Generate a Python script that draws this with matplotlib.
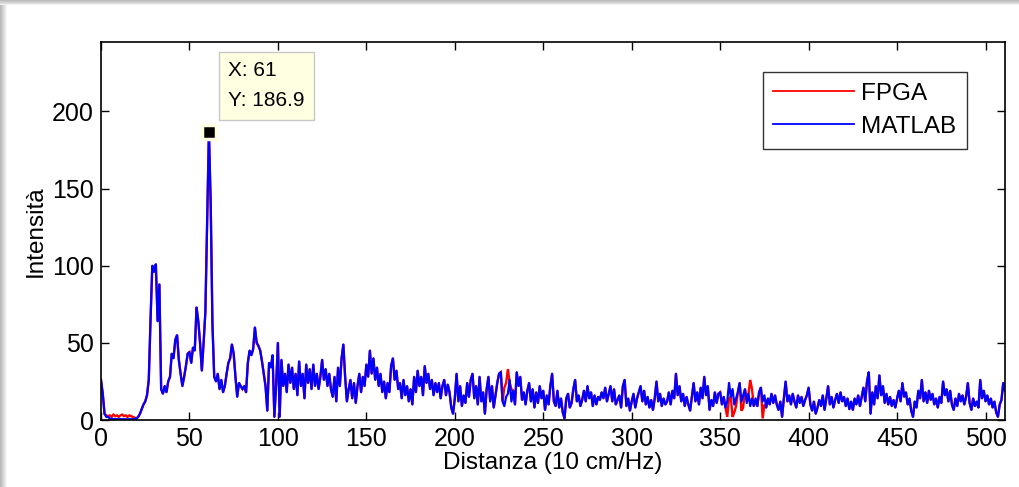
import numpy as np
import matplotlib
matplotlib.use("Agg")
import matplotlib.pyplot as plt
from matplotlib.patches import Rectangle

# MATLAB spectrum, bins 0..511
matlab = [
    26, 17, 4, 2, 2, 0.8, 0.8, 0.6, 0.6, 0.5,
    0.5, 0.5, 0.5, 0.5, 0.5, 0.5, 0.5, 0.5, 0.5, 0.8,
    1, 2, 4, 7, 10, 12, 16, 26, 65, 100,
    96, 101, 64, 88, 20, 17, 22, 18, 25, 28,
    43, 40, 52, 55, 39, 30, 22, 28, 35, 43,
    44, 37, 47, 45, 73, 64, 50, 32, 50, 70,
    128, 186.9, 141, 62, 28, 25, 30, 20, 26, 18,
    22, 30, 37, 40, 49, 43, 28, 15, 24, 22,
    20, 22, 18, 37, 45, 42, 46, 60, 50, 48,
    45, 38, 30, 22, 6, 37, 34, 42, 2, 23,
    50, 2, 39, 22, 30, 18, 36, 24, 34, 20,
    30, 16, 38, 22, 30, 14, 36, 24, 33, 20,
    36, 22, 30, 20, 28, 39, 26, 33, 22, 30,
    20, 15, 28, 12, 34, 22, 40, 49, 28, 12,
    20, 26, 14, 24, 11, 22, 30, 18, 28, 22,
    36, 28, 45, 30, 40, 26, 34, 22, 30, 18,
    25, 14, 24, 18, 35, 40, 26, 32, 20, 24,
    14, 26, 16, 22, 12, 20, 10, 28, 18, 32,
    22, 28, 16, 35, 24, 30, 20, 26, 16, 24,
    18, 24, 14, 22, 26, 16, 23, 18, 8, 4,
    14, 30, 12, 22, 9, 16, 11, 24, 15, 26,
    30, 14, 22, 10, 28, 12, 18, 4, 20, 28,
    12, 22, 8, 16, 24, 30, 31, 12, 9, 15,
    17, 26, 12, 19, 10, 31, 22, 28, 13, 18,
    10, 19, 24, 12, 20, 8, 18, 11, 22, 14,
    19, 6.5, 16, 10, 22, 30, 12, 9, 19, 8,
    14, 5, 1, 14, 17, 8, 11, 20, 26, 12,
    16, 9, 13, 19, 12, 22, 14, 18, 9, 16,
    10, 15, 13, 18, 14, 21, 12, 17, 22, 12,
    20, 10, 13, 16, 8, 22, 26, 9, 14, 6,
    12, 17, 8, 14, 18, 22, 12, 19, 10, 15,
    8, 13, 6.5, 14, 25, 12, 17, 9, 14, 10,
    12, 18, 10, 19, 14, 30, 16, 22, 12, 17,
    9, 15, 10, 6, 15, 24, 12, 18, 10, 21,
    14, 28, 16, 22, 6.5, 13, 9, 18, 11, 17,
    18, 10, 15, 8, 12, 24, 15, 20, 10, 14,
    18, 24, 12, 16, 20, 11, 17, 9, 14, 9,
    14, 9, 18, 21, 12, 16, 8, 14, 10, 17,
    11, 16, 10, 6.5, 12, 2, 14, 25, 12, 16,
    10, 17, 12, 8, 16, 11, 15, 9, 13, 16,
    21, 10, 6, 12, 4, 8, 13, 9, 16, 6.5,
    14, 22, 10, 15, 8, 13, 17, 11, 18, 12,
    15, 9, 14, 7, 12, 6.5, 14, 10, 16, 9,
    15, 21, 12, 25, 31, 4, 18, 10, 22, 14,
    29, 16, 22, 11, 17, 10, 15, 9, 13, 8,
    14, 19, 12, 24, 15, 18, 10, 14, 6, 2,
    12, 8, 19, 14, 26, 12, 18, 11, 19, 13,
    17, 10, 14, 8, 15, 11, 25, 16, 20, 12,
    19, 10, 6.5, 14, 9, 17, 12, 16, 10, 15,
    24, 11, 6.5, 14, 9, 12, 8, 26, 14, 19,
    12, 16, 10, 14, 8, 12, 5, 2, 10, 13,
    24, 19,
]

# FPGA output: same as MATLAB except in the bins where the red trace shows
fpga_diff = {
    3: 3, 4: 2.5, 5: 3, 6: 2, 7: 3.5, 8: 2.5, 9: 3, 10: 2, 11: 3,
    12: 3.5, 13: 2.5, 14: 3, 15: 2, 16: 3, 17: 2.5, 18: 2, 19: 1.5,
    228: 21, 229: 24, 230: 33, 231: 24, 232: 20,
    354: 2, 355: 14, 357: 2, 358: 5, 359: 9, 362: 6, 363: 8, 365: 14,
    367: 26, 368: 20, 370: 12, 372: 18, 374: 1, 375: 10,
}

peak_x, peak_y = 61, 186.9

x = np.arange(len(matlab))
fpga = list(matlab)
for k, v in fpga_diff.items():
    fpga[k] = v

plt.rcParams["font.family"] = ["Liberation Sans", "DejaVu Sans"]

W, H = 1019, 487
fig = plt.figure(figsize=(W / 100, H / 100), dpi=100)

# window shadow of the screenshot (left and top edges)
for i, g in enumerate([0.72, 0.76, 0.80, 0.84, 0.88, 0.92, 0.96]):
    fig.patches.append(Rectangle((i / W, 0), 1 / W, 1, transform=fig.transFigure,
                                 fc=str(g), ec="none"))
for i, g in enumerate([0.74, 0.78, 0.83, 0.88, 0.94]):
    fig.patches.append(Rectangle((0, 1 - (i + 1) / H), 1, 1 / H, transform=fig.transFigure,
                                 fc=str(g), ec="none"))

ax = fig.add_axes([101 / W, (H - 420) / H, (1005 - 101) / W, (420 - 42) / H])

ax.plot(x, fpga, color="red", lw=1.7, solid_joinstyle="miter", label="FPGA")
ax.plot(x, matlab, color="blue", lw=1.6, solid_joinstyle="round", label="MATLAB")

ax.set_xlim(0, 511)
ax.set_ylim(0, 245)
ax.set_xticks(np.arange(0, 501, 50))
ax.set_yticks(np.arange(0, 201, 50))
ax.tick_params(direction="in", length=6, width=1, labelsize=18,
               top=True, right=True, pad=5)
for sp in ax.spines.values():
    sp.set_linewidth(1.2)

ax.set_xlabel("Distanza (10 cm/Hz)", fontsize=17.5, labelpad=1)
ax.set_ylabel("Intensità", fontsize=17.5, labelpad=4)

leg = ax.legend(loc="upper right", bbox_to_anchor=((967 - 101) / 904, (420 - 72) / 378),
                borderaxespad=0, fontsize=17.5,
                frameon=True, fancybox=False, edgecolor="black",
                handlelength=3.3, handletextpad=0.3, borderpad=0.45,
                labelspacing=0.45)
leg.get_frame().set_linewidth(1.0)
for ln in leg.get_lines():
    ln.set_linewidth(1.3)

# data tip
ax.plot([peak_x], [peak_y], marker="s", ms=10, color="black",
        mec="#ffffe1", mew=2.5, zorder=5)
ax.annotate(f"X: {peak_x}\nY: {peak_y}", xy=(peak_x, peak_y),
            xytext=(228, H - 61), textcoords="figure pixels",
            va="top", ha="left", fontsize=15, linespacing=1.75,
            bbox=dict(boxstyle="square,pad=0.45", fc="#ffffe1", ec="#c8c8c8", lw=1),
            annotation_clip=False)

fig.savefig("out.png", dpi=100, facecolor="white")
